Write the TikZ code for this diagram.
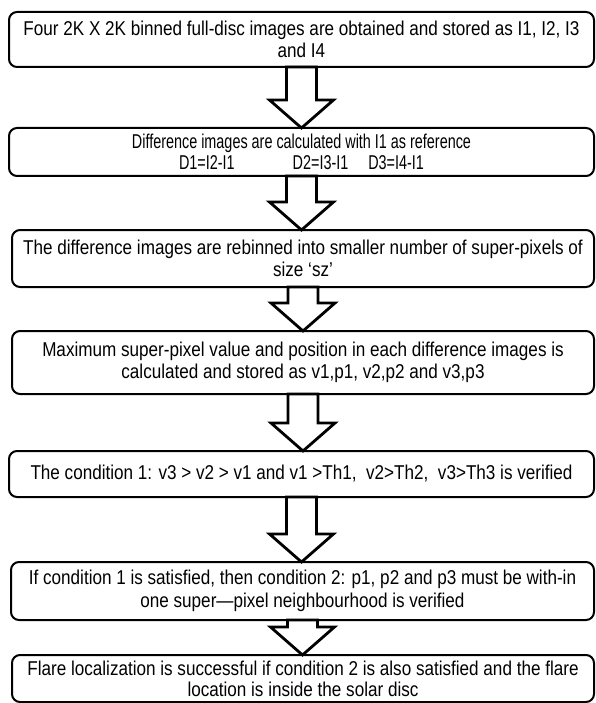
\documentclass[tikz,border=0pt]{standalone}
\usepackage{fontspec}
\setmainfont{Liberation Sans}[FakeStretch=0.855]
\newfontfamily\narrowfont{Liberation Sans}[FakeStretch=0.72]
\usetikzlibrary{positioning, calc}

\begin{document}
\begin{tikzpicture}[
  x=1pt, y=1pt,
  stepbox/.style={
    rectangle, rounded corners=8pt, draw=black, line width=2pt,
    align=center, inner sep=0pt, outer sep=0pt,
    font=\fontsize{20}{22.5}\selectfont
  },
  narrowtext/.style={font=\narrowfont\fontsize{20}{20.5}\selectfont},
  tighttext/.style={font=\fontsize{20}{21}\selectfont},
  hollowarrow/.style={draw=black, line width=2.8pt, line join=miter, fill=white}
]
\useasboundingbox (0,0) rectangle (596,-703);

\node[stepbox, minimum width=585pt, minimum height=55pt, anchor=north east] (b1) at (594,-12)
  {Four 2K X 2K binned full-disc images are obtained and stored as I1, I2, I3\\and I4};
\node[stepbox, narrowtext, below=61pt of b1.south east, anchor=north east, minimum width=585pt, minimum height=48pt] (b2)
  {Difference images are calculated with I1 as reference\\D1=I2-I1\hspace{58pt}D2=I3-I1\hspace{20pt}D3=I4-I1};
\node[stepbox, below=54pt of b2.south east, anchor=north east, minimum width=582pt, minimum height=57pt] (b3)
  {The difference images are rebinned into smaller number of super-pixels of\\size `sz'};
\node[stepbox, below=44pt of b3.south east, anchor=north east, minimum width=582pt, minimum height=63pt] (b4)
  {Maximum super-pixel value and position in each difference images is\\calculated and stored as v1,p1, v2,p2 and v3,p3};
\node[stepbox, below=57pt of b4.south east, anchor=north east, minimum width=585pt, minimum height=46pt] (b5)
  {The condition 1: v3 > v2 > v1 and v1 >Th1,\ \ v2>Th2,\ \ v3>Th3 is verified};
\node[stepbox, below=65pt of b5.south east, anchor=north east, minimum width=583pt, minimum height=58pt] (b6)
  {If condition 1 is satisfied, then condition 2: p1, p2 and p3 must be with-in\\one super---pixel neighbourhood is verified};
\node[stepbox, tighttext, below=35pt of b6.south east, anchor=north east, minimum width=582pt, minimum height=47pt] (b7)
  {Flare localization is successful if condition 2 is also satisfied and the flare\\location is inside the solar disc};

% hollow block arrows between the steps
\foreach \a/\b in {b1/b2, b2/b3, b3/b4, b4/b5, b5/b6, b6/b7}
  \draw[hollowarrow] let \p1=(\a.south), \p2=(\b.north) in
    (\x1-15pt,\y1) -- (\x1-15pt,\y2+28pt) -- (\x1-32pt,\y2+28pt) -- (\x1,\y2)
    -- (\x1+32pt,\y2+28pt) -- (\x1+15pt,\y2+28pt) -- (\x1+15pt,\y1) -- cycle;
\end{tikzpicture}
\end{document}
